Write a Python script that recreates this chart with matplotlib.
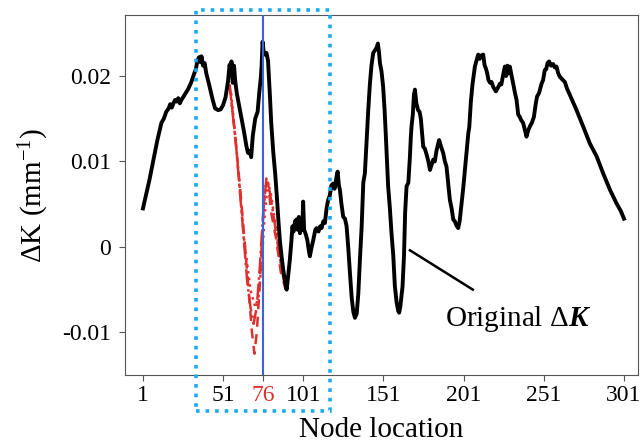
import numpy as np
import matplotlib.pyplot as plt
from matplotlib.patches import Rectangle

# ---------------
# Data
# ---------------

# Original Delta K along the nodes
node = [1, 5, 10, 12.5, 14, 15.5, 17, 18, 19, 20, 21, 22, 23, 24, 25, 27, 29, 31,
        33, 34, 35, 36, 37, 37.5, 38.5, 39.5, 40.5, 42.5, 44.5, 46, 48, 49.5, 51,
        52.5, 54, 55, 55.8, 56.2, 57, 57.8, 58.5, 59.5, 61, 62.5, 64, 65.5, 66.5,
        67.5, 68.5, 69.5, 71, 72.5, 73.5, 74.5, 75, 75.6, 76.2, 77, 78, 79, 80.2,
        81, 82.3, 83.5, 84.5, 85.5, 86.5, 87.5, 88.5, 89.5, 90.6, 91.5, 92.6, 93.5,
        94.2, 95, 95.8, 96.8, 97.5, 98.2, 98.9, 99.5, 100.3, 100.9, 101.5, 102.5,
        103.5, 104.5, 105.1, 106, 107.2, 108.5, 109.3, 110.5, 111.5, 112.4, 113.5,
        114.5, 115.5, 116.5, 117.5, 118.5, 119.6, 120.5, 121.5, 122.4, 123.2, 123.8,
        124.8, 125.9, 127, 128, 129, 130.1, 131.2, 132.2, 133.2, 134.3, 135.3,
        136.3, 137.4, 138.4, 139.4, 140.5, 141.5, 142.5, 143.5, 144.6, 145.7,
        146.7, 147.5, 148.2, 148.8, 149.8, 150.8, 151.7, 152.5, 153.9, 155, 156,
        157.1, 158.1, 159.2, 160.2, 160.8, 161.5, 162.9, 163.8, 164.5, 165.4,
        166.5, 167.5, 168.1, 168.5, 169.3, 170, 170.6, 171.5, 172.6, 173.5, 174.3,
        175, 175.8, 176.8, 177.9, 179, 180, 181, 182, 183, 184.1, 185, 185.7,
        186.8, 188.2, 189.3, 190.3, 191.3, 192.4, 193.5, 194.5, 195.5, 196.5,
        197.6, 198.5, 199.7, 200.8, 201.8, 202.5, 203.9, 204.5, 205.5, 206.5, 208,
        209, 210.1, 211, 212, 213.2, 214, 215, 215.7, 216.5, 217.5, 218.4, 219.5,
        221.1, 222.3, 223.6, 224.5, 225.5, 226.7, 227.5, 228.3, 228.8, 229.8,
        230.9, 231.9, 233, 234, 235, 236, 237, 238.1, 239, 240.2, 241.2, 242.3,
        243.5, 244.8, 246, 246.8, 248, 249.6, 250.5, 251.6, 252.5, 253.3, 254.3,
        255.5, 256.8, 257.8, 258.9, 260, 261, 262.5, 264.1, 265.5, 267.2, 271.4,
        275.5, 279.7, 283.9, 288, 292.2, 296.3, 299, 301]
dk = [0.0045, 0.0078, 0.0125, 0.0145, 0.0150, 0.0158, 0.0162, 0.0167, 0.0163,
      0.0168, 0.0172, 0.0170, 0.0174, 0.0168, 0.0172, 0.0178, 0.0184, 0.0192,
      0.0203, 0.0208, 0.0218, 0.0222, 0.0216, 0.0223, 0.0212, 0.0215, 0.0203,
      0.0188, 0.0172, 0.0162, 0.0160, 0.0161, 0.0166, 0.0175, 0.0193, 0.0213,
      0.0206, 0.0217, 0.0192, 0.0212, 0.0195, 0.0180, 0.0165, 0.0150, 0.0135,
      0.0118, 0.0110, 0.0112, 0.0105, 0.0130, 0.0150, 0.0158, 0.0180, 0.0198,
      0.0212, 0.0240, 0.0230, 0.0225, 0.0227, 0.0218, 0.0176, 0.0145, 0.0110,
      0.0085, 0.0059, 0.0030, 0.0005, -0.0012, -0.0027, -0.0040, -0.0050,
      -0.0035, -0.0015, 0.0005, 0.0024, 0.0018, 0.0030, 0.0032, 0.0020, 0.0035,
      0.0016, 0.0028, 0.0020, 0.0053, 0.0020, 0.0015, 0.0008, -0.0005, -0.0011,
      -0.0002, 0.0008, 0.0020, 0.0022, 0.0018, 0.0024, 0.0022, 0.0030, 0.0028,
      0.0045, 0.0055, 0.0060, 0.0072, 0.0074, 0.0068, 0.0080, 0.0088, 0.0072,
      0.0067, 0.0050, 0.0035, 0.0033, 0.0024, 0.0000, -0.0031, -0.0060, -0.0076,
      -0.0083, -0.0078, -0.0055, -0.0015, 0.0024, 0.0075, 0.0086, 0.0125, 0.0160,
      0.0190, 0.0212, 0.0227, 0.0230, 0.0233, 0.0238, 0.0228, 0.0215, 0.0205,
      0.0187, 0.0160, 0.0129, 0.0071, 0.0045, 0.0016, -0.0010, -0.0046, -0.0065,
      -0.0075, -0.0077, -0.0070, -0.0046, -0.0010, 0.0040, 0.0071, 0.0075,
      0.0106, 0.0130, 0.0141, 0.0155, 0.0178, 0.0184, 0.0168, 0.0160, 0.0158,
      0.0150, 0.0135, 0.0117, 0.0115, 0.0108, 0.0100, 0.0090, 0.0096, 0.0102,
      0.0100, 0.0113, 0.0120, 0.0125, 0.0118, 0.0110, 0.0100, 0.0094, 0.0075,
      0.0055, 0.0045, 0.0032, 0.0030, 0.0025, 0.0022, 0.0030, 0.0051, 0.0070,
      0.0090, 0.0105, 0.0133, 0.0140, 0.0170, 0.0190, 0.0211, 0.0218, 0.0225,
      0.0220, 0.0224, 0.0225, 0.0213, 0.0208, 0.0203, 0.0195, 0.0192, 0.0193,
      0.0187, 0.0182, 0.0186, 0.0191, 0.0190, 0.0200, 0.0211, 0.0200, 0.0212,
      0.0203, 0.0211, 0.0200, 0.0191, 0.0180, 0.0172, 0.0155, 0.0152, 0.0148,
      0.0145, 0.0138, 0.0129, 0.0136, 0.0141, 0.0145, 0.0152, 0.0168, 0.0176,
      0.0180, 0.0191, 0.0195, 0.0207, 0.0208, 0.0215, 0.0217, 0.0212, 0.0214,
      0.0210, 0.0211, 0.0203, 0.0199, 0.0196, 0.0193, 0.0185, 0.0178, 0.0160,
      0.0141, 0.0121, 0.0106, 0.0086, 0.0067, 0.0051, 0.0042, 0.0033]

# Red local curves around node 76
node_a = [55, 58, 62, 66, 69, 70.5, 72, 74, 75.5, 77, 79, 81, 84, 87, 90]
dk_a = [0.0190, 0.0140, 0.0060, -0.0030, -0.0100, -0.0125, -0.0100, -0.0040,
        0.0020, 0.0070, 0.0075, 0.0040, 0.0010, -0.0030, -0.0050]
node_b = [55, 59, 63, 66, 68, 70, 72, 74, 76, 78, 80, 83, 86, 89]
dk_b = [0.0190, 0.0120, 0.0030, -0.0040, -0.0070, -0.0090, -0.0070, -0.0020,
        0.0040, 0.0080, 0.0065, 0.0030, -0.0010, -0.0040]
node_c = [56, 60, 64, 68, 71, 73, 75, 77, 79, 81, 84, 87, 90]
dk_c = [0.0180, 0.0100, 0.0010, -0.0050, -0.0070, -0.0060, -0.0020, 0.0040,
        0.0075, 0.0060, 0.0020, -0.0020, -0.0045]

xticks = [1, 51, 76, 101, 151, 201, 251, 301]
yticks = [-0.01, 0, 0.01, 0.02]
ytick_labels = ['-0.01', '0', '0.01', '0.02']

# ---------------
# Plot
# ---------------

plt.rcParams['font.family'] = 'Liberation Serif'
plt.rcParams['mathtext.fontset'] = 'custom'
plt.rcParams['mathtext.rm'] = 'Liberation Serif'
plt.rcParams['mathtext.it'] = 'Liberation Serif:italic'
plt.rcParams['mathtext.bf'] = 'Liberation Serif:bold'
plt.rcParams['mathtext.bfit'] = 'Liberation Serif:italic:bold'

fig = plt.figure(figsize=(6.41, 4.42), dpi=100)
ax = fig.add_axes([0.195, 0.152, 0.800, 0.814])

ax.plot(node, dk, color='black', lw=2.8, zorder=3)
red = '#e0302e'
ax.plot(node_a, dk_a, color=red, lw=1.8, ls=(0, (4, 3)), zorder=2)
ax.plot(node_b, dk_b, color=red, lw=1.8, ls='-.', zorder=2)
ax.plot(node_c, dk_c, color=red, lw=1.8, ls=':', zorder=2)

ax.axvline(76, color='#3c62dc', lw=1.5, zorder=4)

# dotted zoom box that sticks out of the axes
box = Rectangle((33.9, -0.0192), 117.6 - 33.9, 0.0277 + 0.0192, fill=False,
                ls=':', lw=2.6, edgecolor='#1aaaf0', clip_on=False, zorder=5)
ax.add_patch(box)

# label line
ax.plot([167.5, 206.7], [-0.0004, -0.0050], color='black', lw=1.8)
ax.text(235, -0.0084, r'Original $\Delta\mathbfit{K}$', fontsize=21,
        ha='center', va='center')

ax.set_xlim(-10.2, 309.6)
ax.set_ylim(-0.01497, 0.02713)
ax.set_xticks(xticks)
ax.set_xticklabels([str(t) for t in xticks])
ax.set_yticks(yticks)
ax.set_yticklabels(ytick_labels)
ax.tick_params(labelsize=17, length=4, color='#555555')
ax.tick_params(axis='y', pad=6)
ax.tick_params(axis='x', pad=3)
ax.get_xticklabels()[2].set_color(red)
for s in ax.spines.values():
    s.set_color('#555555')

ax.set_xlabel('Node location', fontsize=21, labelpad=8)
ax.set_ylabel(r'$\Delta$K (mm$^{-1}$)', fontsize=21, labelpad=8)

plt.savefig('out.png', dpi=100)
